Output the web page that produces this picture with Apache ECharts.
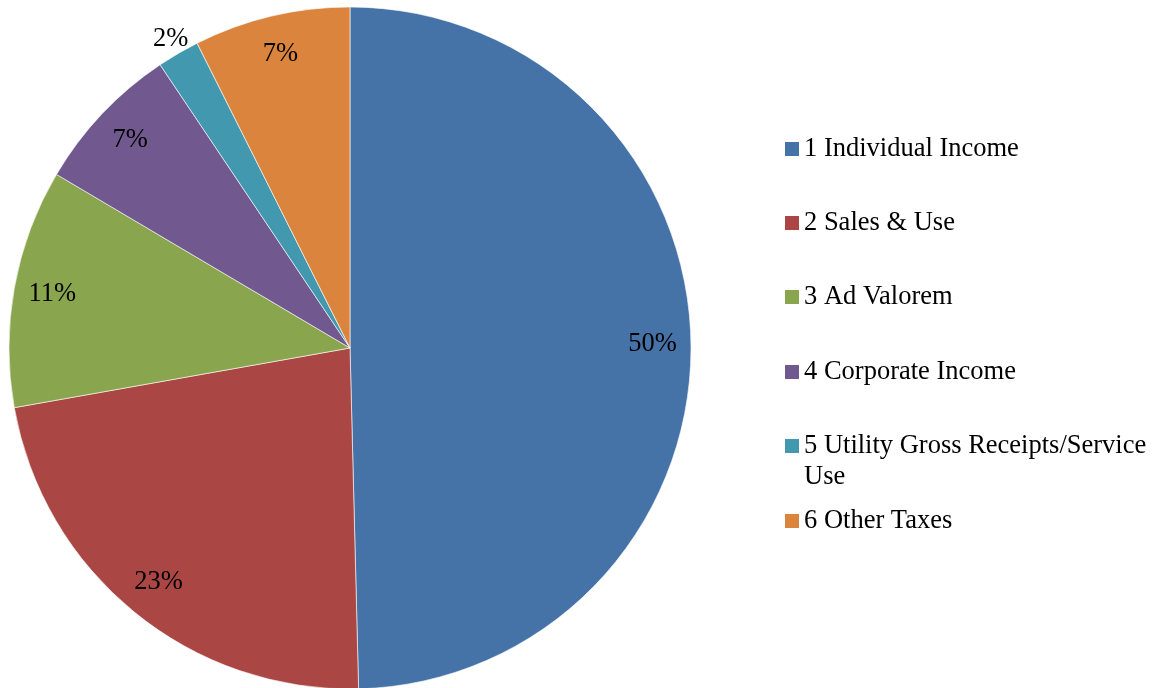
<!DOCTYPE html>
<html>
<head>
<meta charset="utf-8">
<style>
  html, body { margin: 0; padding: 0; background: #fff; }
  #chart { width: 1157px; height: 688px; }
</style>
<script src="https://cdn.jsdelivr.net/npm/echarts@6/dist/echarts.min.js"></script>
</head>
<body>
<div id="chart"></div>
<script>
// tax categories and their share of revenue (%)
const names = ['1 Individual Income', '2 Sales & Use', '3 Ad Valorem', '4 Corporate Income',
  '5 Utility Gross Receipts/Service Use', '6 Other Taxes']
const shares = [49.6, 22.6, 11.3, 7.1, 2.0, 7.4]
const colors = ['#4572A7', '#AA4643', '#89A54E', '#71588F', '#4198AF', '#DB843D']

const font = 'Liberation Serif, Times New Roman, serif'
const legendY = [149, 223, 297, 372, 446, 521]

const chart = echarts.init(document.getElementById('chart'))
const pieData = names.map((n, i) => ({ name: n, value: shares[i] }))

chart.setOption({
  animation: false,
  color: colors,
  legend: names.map((n, i) => {
    const twoLine = n.includes('/Service ')
    return {
      orient: 'vertical', left: 785, top: legendY[i] - 15.5 - (twoLine ? 31 : 0),
      padding: 0, itemGap: 0, selectedMode: false,
      icon: 'rect', itemWidth: 14, itemHeight: 14,
      itemStyle: { borderWidth: 0 },
      data: [n],
      // blank first line keeps the marker level with the first text line
      formatter: name => twoLine ? '\n' + name.replace('/Service ', '/Service\n') : name,
      textStyle: { fontFamily: font, fontSize: 26.5, lineHeight: 31, color: '#000' }
    }
  }),
  series: [
    {
      type: 'pie', center: [350, 348], radius: [0, 341], startAngle: 90,
      label: { show: false }, labelLine: { show: false },
      itemStyle: { borderColor: '#fff', borderWidth: 0.6 },
      emphasis: { disabled: true },
      data: pieData
    },
    {
      // label-only ring so the percentages sit near the rim like the original
      type: 'pie', center: [350, 348], radius: [258, 341], startAngle: 90,
      silent: true, labelLine: { show: false },
      itemStyle: { color: 'transparent' },
      label: {
        position: 'inside', fontFamily: font, fontSize: 26.5, color: '#000',
        formatter: p => Math.round(p.percent) + '%'
      },
      data: pieData.map((d, i) => i === 4 ? { ...d, label: { offset: [-27, -48] } } : d)
    }
  ]
})
</script>
</body>
</html>
